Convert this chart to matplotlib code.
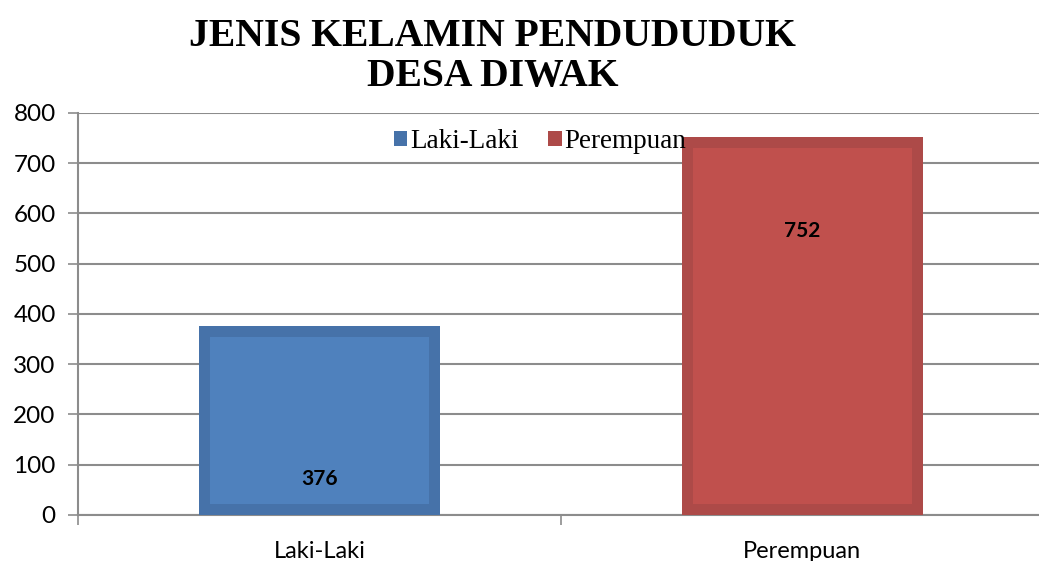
import numpy as np
import matplotlib.pyplot as plt

categories = ["Laki-Laki", "Perempuan"]
values = [376, 752]
label_pos = [72, 565]
face_colors = ["#4f81bd", "#c0504d"]
edge_colors = ["#4672a9", "#ad4a48"]

fig = plt.figure(figsize=(10.39, 5.61), dpi=100)
ax = fig.add_axes([0.075, 0.082, 0.925, 0.717])

x = np.arange(len(categories))
bar_w = 0.5
# darker frame then lighter inner fill, like the Office bevel look
for i in range(len(categories)):
    ax.bar(x[i], values[i], width=bar_w, color=edge_colors[i], zorder=3,
           label=categories[i])
    ax.bar(x[i], values[i] - 44, bottom=22, width=bar_w - 0.046,
           color=face_colors[i], zorder=3)
    ax.text(x[i], label_pos[i], str(values[i]), ha="center", va="center",
            fontsize=15, fontweight="bold", family="Lato", zorder=5)

ax.set_yticks(np.arange(0, 801, 100))
ax.set_yticklabels([str(v) for v in range(0, 801, 100)], family="Lato",
                   fontsize=17.5)
ax.yaxis.grid(True, color="#8c8c8c", lw=1.5, zorder=0)
ax.set_xticks([-0.5, 0.5])
ax.set_xticklabels([])
ax.set_xticks(x, minor=True)
ax.set_xticklabels(categories, minor=True, family="Lato", fontsize=17)
ax.tick_params(axis="x", which="minor", length=0, pad=19)
ax.tick_params(axis="x", which="major", length=7, color="#8c8c8c", width=1.2)
ax.tick_params(axis="y", length=7, color="#8c8c8c", width=1.2, pad=9)
ax.set_ylim(0, 800)
ax.set_xlim(-0.5, 1.49)

for s in ["top", "right"]:
    ax.spines[s].set_visible(False)
for s in ["left", "bottom"]:
    ax.spines[s].set_color("#8c8c8c")
    ax.spines[s].set_linewidth(1.5)

h, l = ax.get_legend_handles_labels()
leg = ax.legend(h, l, loc="upper center", bbox_to_anchor=(0.481, 1.0), ncol=2,
                frameon=False, prop={"family": "Liberation Serif", "size": 19.5},
                handlelength=0.5, handleheight=0.5, handletextpad=0.1,
                columnspacing=1.1, borderaxespad=0.2)
leg.set_zorder(10)

fig.text(0.474, 0.968, "JENIS KELAMIN PENDUDUDUK\nDESA DIWAK", ha="center",
         va="top", family="Liberation Serif", fontweight="bold", fontsize=28.5,
         linespacing=1.1)

fig.savefig("out.png", dpi=100)
